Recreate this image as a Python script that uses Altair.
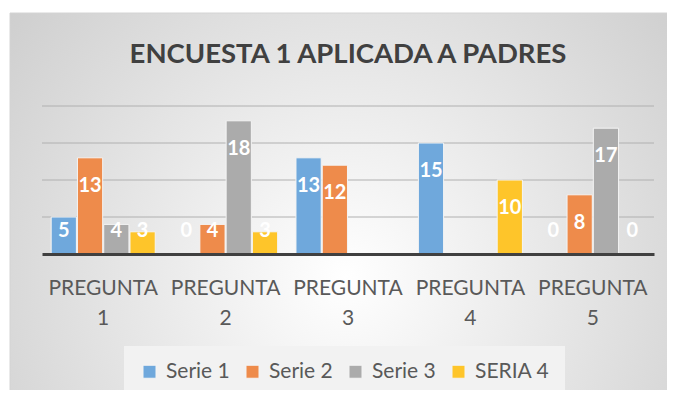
import altair as alt
import pandas as pd

categories = ["PREGUNTA 1", "PREGUNTA 2", "PREGUNTA 3", "PREGUNTA 4", "PREGUNTA 5"]
series = ["Serie 1", "Serie 2", "Serie 3", "SERIA 4"]
serie1 = [5, 0, 13, 15, 0]
serie2 = [13, 4, 12, None, 8]
serie3 = [4, 18, None, None, 17]
seria4 = [3, 3, None, 10, 0]
colors = ["#6FA8DC", "#EE8B4B", "#ABABAB", "#FEC52A"]
grid_values = [5, 10, 15, 20]

rows = []
for name, vals in zip(series, [serie1, serie2, serie3, seria4]):
    for cat, v in zip(categories, vals):
        if v is not None:
            rows.append({"pregunta": cat, "serie": name, "valor": v})
df = pd.DataFrame(rows)

FONT = "Lato"

bg = alt.Chart(pd.DataFrame({"a": [0]})).mark_rect(
    fill=alt.Gradient(
        gradient="radial",
        stops=[alt.GradientStop(color="#ffffff", offset=0),
               alt.GradientStop(color="#c6c6c6", offset=1)],
        x1=0.5, y1=0.6, x2=0.5, y2=0.6, r1=0, r2=0.75),
    stroke="#d4d4d4", strokeWidth=1
).encode(x=alt.value(-32), x2=alt.value(640), y=alt.value(-93), y2=alt.value(300))

grid = alt.Chart(pd.DataFrame({"g": grid_values})).mark_rule(
    color="#b0b0b0", strokeWidth=1
).encode(y=alt.Y("g:Q", scale=alt.Scale(domain=[0, 20]), axis=None))

x_enc = alt.X("pregunta:N", sort=categories, title=None,
              scale=alt.Scale(paddingInner=0.15, paddingOuter=0.075),
              axis=alt.Axis(labelExpr="split(datum.label, ' ')", labelAngle=0,
                            labelFont=FONT, labelFontSize=21, labelColor="#595959",
                            labelLineHeight=30, labelPadding=23, ticks=False,
                            domainColor="#404040", domainWidth=3, zindex=1))
xo_enc = alt.XOffset("serie:N", sort=series, scale=alt.Scale(paddingInner=0.04))

bars = alt.Chart(df).transform_filter("datum.valor > 0").mark_bar(
    stroke="#f4f4f4", strokeWidth=1).encode(
    x=x_enc,
    xOffset=xo_enc,
    y=alt.Y("valor:Q", scale=alt.Scale(domain=[0, 20]), axis=None),
    color=alt.Color("serie:N", sort=series,
                    scale=alt.Scale(domain=series, range=colors),
                    legend=alt.Legend(title=None, orient="none", direction="horizontal",
                                      legendX=82, legendY=240,
                                      symbolType="square", symbolSize=169,
                                      symbolStrokeWidth=1, symbolStrokeColor="#f4f4f4",
                                      labelOffset=6,
                                      labelFont=FONT, labelFontSize=21, labelColor="#595959",
                                      columnPadding=12, padding=15,
                                      fillColor="#f2f2f2")),
)

labels = alt.Chart(df).transform_calculate(
    ypos="max(datum.valor - 3.8, 3.1)"
).mark_text(color="white", font=FONT, fontSize=20, fontWeight="bold",
            baseline="middle").encode(
    x=alt.X("pregunta:N", sort=categories),
    xOffset=alt.XOffset("serie:N", sort=series),
    y=alt.Y("ypos:Q"),
    text=alt.Text("valor:Q"),
)

chart = alt.layer(bg, grid, bars, labels).properties(
    width=612, height=148,
    title=alt.Title("ENCUESTA 1 APLICADA A PADRES", font=FONT, fontSize=27.5,
                    fontWeight="bold", color="#404040", anchor="middle",
                    frame="group", baseline="bottom", offset=0, dy=84),
    autosize=alt.AutoSizeParams(type="none"),
    padding={"left": 34, "top": 98, "right": 13, "bottom": 136},
).configure(background="white").configure_view(stroke=None)

chart.save("out.html", embed_options={"renderer": "svg", "actions": False})
